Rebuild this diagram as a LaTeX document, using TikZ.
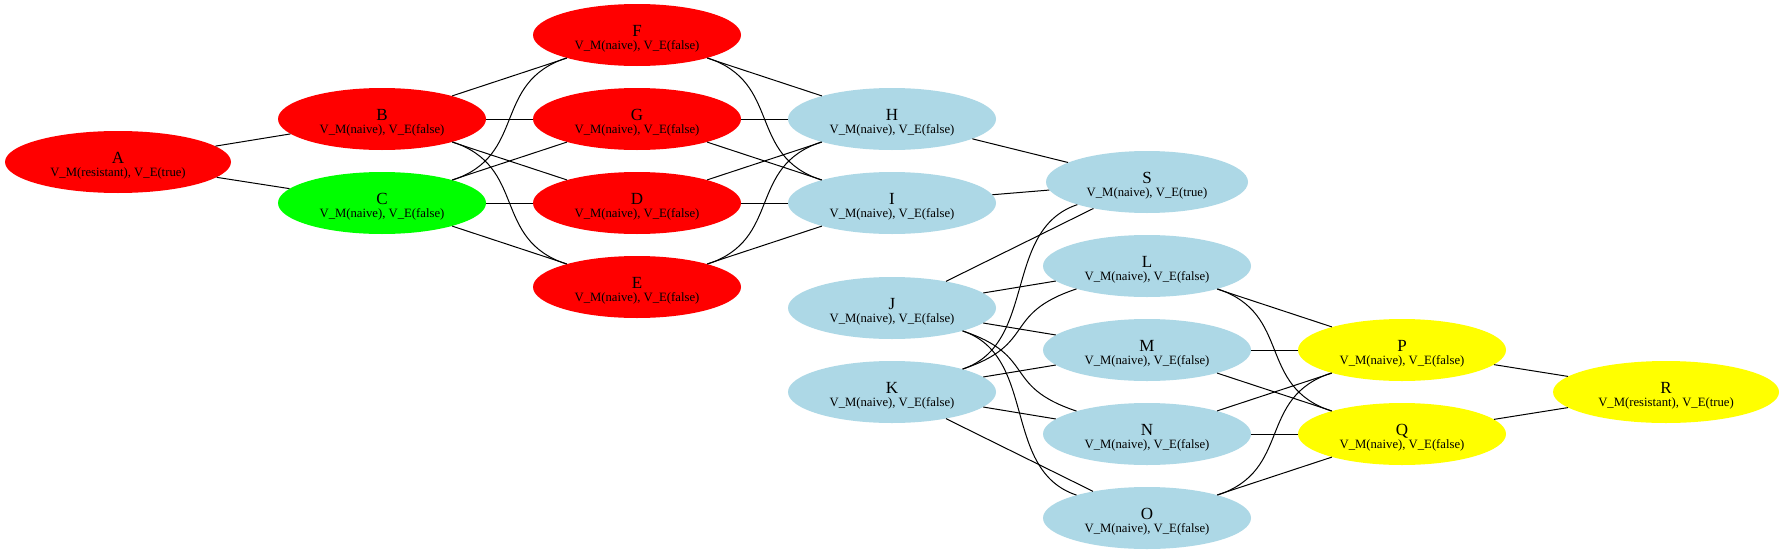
\documentclass[tikz,border=0pt]{standalone}
\usepackage{fontspec}
\setmainfont{Liberation Serif}
\usetikzlibrary{shapes.geometric,calc}
\definecolor{nred}{HTML}{FF0000}
\definecolor{ngreen}{HTML}{00FF00}
\definecolor{nblue}{HTML}{ADD8E6}
\definecolor{nyellow}{HTML}{FFFF00}
\newcommand\mainf{\fontsize{17}{17}\selectfont}
\newcommand\subf{\fontsize{12.7}{13}\selectfont}
\newcommand\nf{V\_M(naive), V\_E(false)}
\newcommand\gnode[7]{%
  \node[gell, fill=#4, minimum width=#5pt] (#1) at (#2,#3) {};
  \node[mainlbl] (#1-main) at ($(#1.center)+(0,1)$) {#6};
  \node[sublbl] (#1-sub) at ($(#1.center)+(0,14.5)$) {#7};
}
\newcommand\cvdown[2]{\draw[edge] (#1.-18) .. controls ($(#1.-18)+(75,25)$) and ($(#2.162)+(-75,-25)$) .. (#2.162);}
\newcommand\cvup[2]{\draw[edge] (#1.18) .. controls ($(#1.18)+(75,-25)$) and ($(#2.198)+(-75,25)$) .. (#2.198);}
\tikzset{
  gell/.style={ellipse, draw=none, minimum height=62pt, inner sep=0pt},
  mainlbl/.style={anchor=base, inner sep=0pt, font=\mainf},
  sublbl/.style={anchor=base, inner sep=0pt, font=\subf},
  edge/.style={draw=black, line width=1pt}
}
\begin{document}
\begin{tikzpicture}[x=1pt, y=-1pt]
\fill[white] (0,0) rectangle (1784,554);
\useasboundingbox (0,0) rectangle (1784,554);
\gnode{A}{118}{162}{nred}{226}{A}{V\_M(resistant), V\_E(true)}
\gnode{B}{382}{119}{nred}{208}{B}{\nf}
\gnode{C}{382}{203}{ngreen}{208}{C}{\nf}
\gnode{F}{637}{35}{nred}{208}{F}{\nf}
\gnode{G}{637}{119}{nred}{208}{G}{\nf}
\gnode{D}{637}{203}{nred}{208}{D}{\nf}
\gnode{E}{637}{287}{nred}{208}{E}{\nf}
\gnode{H}{892}{119}{nblue}{208}{H}{\nf}
\gnode{I}{892}{203}{nblue}{208}{I}{\nf}
\gnode{J}{892}{308}{nblue}{208}{J}{\nf}
\gnode{K}{892}{392}{nblue}{208}{K}{\nf}
\gnode{S}{1147}{182}{nblue}{202}{S}{V\_M(naive), V\_E(true)}
\gnode{L}{1147}{266}{nblue}{208}{L}{\nf}
\gnode{M}{1147}{350}{nblue}{208}{M}{\nf}
\gnode{N}{1147}{434}{nblue}{208}{N}{\nf}
\gnode{O}{1147}{518}{nblue}{208}{O}{\nf}
\gnode{P}{1402}{350}{nyellow}{208}{P}{\nf}
\gnode{Q}{1402}{434}{nyellow}{208}{Q}{\nf}
\gnode{R}{1666}{392}{nyellow}{226}{R}{V\_M(resistant), V\_E(true)}
% straight edges
\foreach \a/\b in {A/B, A/C, B/F, B/G, B/D, C/G, C/D, C/E, F/H, G/H, G/I, D/H, D/I, E/I, H/S, I/S, J/S, J/L, J/M, K/M, K/N, K/O, L/P, M/P, M/Q, N/P, N/Q, O/Q, P/R, Q/R}
  \draw[edge] (\a) -- (\b);
% curved edges
\cvdown{B}{E}
\cvup{C}{F}
\cvdown{F}{I}
\cvup{E}{H}
\cvup{K}{S}
\cvup{K}{L}
\cvdown{J}{N}
\cvdown{J}{O}
\cvdown{L}{Q}
\cvup{O}{P}
\end{tikzpicture}
\end{document}
